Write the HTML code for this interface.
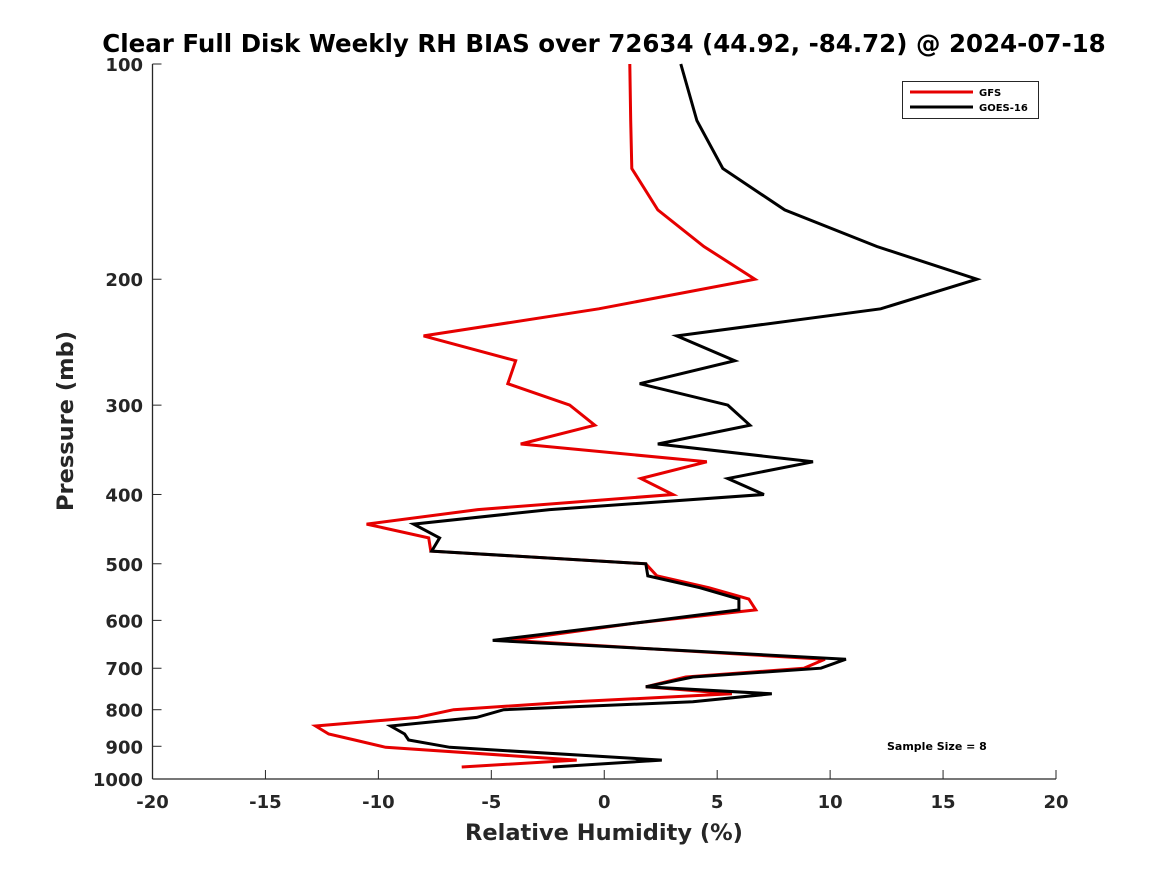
<!DOCTYPE html>
<html><head><meta charset="utf-8"><style>
html,body{margin:0;padding:0;background:#fff;}
svg{display:block;font-family:"DejaVu Sans","Liberation Sans",sans-serif;}
</style></head><body>
<svg id="chart" width="1167" height="875" viewBox="0 0 1167 875">
<text x="604" y="52" text-anchor="middle" font-size="24.5" font-weight="bold" fill="#000">Clear Full Disk Weekly RH BIAS over 72634 (44.92, -84.72) @ 2024-07-18</text>
<g id="axes"></g>
<g id="series"></g>
<text x="604" y="840" text-anchor="middle" font-size="22.5" font-weight="bold" fill="#262626">Relative Humidity (%)</text>
<text transform="translate(73,421) rotate(-90)" text-anchor="middle" font-size="22.5" font-weight="bold" fill="#262626">Pressure (mb)</text>
<text x="887" y="750" font-size="11" font-weight="bold" fill="#000">Sample Size = 8</text>
<g>
<rect x="902.5" y="81.5" width="136" height="37" fill="#fff" stroke="#262626" stroke-width="1"/>
<line x1="910" y1="92" x2="973" y2="92" stroke="#e60000" stroke-width="3"/>
<text x="979" y="96" font-size="10" font-weight="bold" fill="#000">GFS</text>
<line x1="910" y1="107" x2="973" y2="107" stroke="#000" stroke-width="3"/>
<text x="979" y="111" font-size="10" font-weight="bold" fill="#000">GOES-16</text>
</g>
</svg>
<script>
const pressures=[100,120,140,160,180,200,220,240,260,280,300,320,340,360,380,400,420,440,460,480,500,520,540,560,580,605,640,680,700,720,743,760,780,800,820,843,865,882,903,941,962];
const gfsValues=[1.13,1.17,1.22,2.37,4.41,6.67,-0.24,-8.0,-3.92,-4.27,-1.53,-0.42,-3.70,4.54,1.62,3.04,-5.60,-10.52,-7.77,-7.68,1.84,2.33,4.63,6.40,6.71,1.40,-4.14,9.77,8.84,3.61,1.84,5.65,-1.35,-6.67,-8.26,-12.78,-12.20,-11.05,-9.68,-1.22,-6.31];
const goesValues=[3.39,4.10,5.25,7.99,12.07,16.50,12.24,3.21,5.78,1.57,5.47,6.45,2.37,9.24,5.47,7.07,-2.41,-8.44,-7.29,-7.64,1.84,1.93,4.23,5.96,5.96,1.40,-4.94,10.70,9.59,3.92,1.84,7.42,3.92,-4.45,-5.65,-9.46,-8.84,-8.66,-6.84,2.55,-2.28];
const xTicks=[-20,-15,-10,-5,0,5,10,15,20];
const yTicks=[100,200,300,400,500,600,700,800,900,1000];

const L=152.5,R=1056,T=64,B=779;
function xs(v){return L+(v+20)/40*(R-L);}
function ys(p){return T+Math.log10(p/100)*(B-T);}
const NS='http://www.w3.org/2000/svg';
const axes=document.getElementById('axes');
const series=document.getElementById('series');
function mk(tag,attrs,parent){const e=document.createElementNS(NS,tag);for(const k in attrs)e.setAttribute(k,attrs[k]);parent.appendChild(e);return e;}

const xa=mk('line',{x1:L,y1:B,x2:R,y2:B,stroke:'#262626','stroke-width':1.3},axes);


const ya=mk('line',{x1:L,y1:T,x2:L,y2:B,stroke:'#262626','stroke-width':1.3},axes);



xTicks.forEach(v=>{
  const x=xs(v);
  const t=mk('line',{x1:x,y1:B,x2:x,y2:B-9,stroke:'#262626','stroke-width':1},axes);
  
  
  const lb=mk('text',{x:x,y:808,'text-anchor':'middle','font-size':18,'font-weight':'bold',fill:'#262626'},axes);
  lb.textContent=String(v);
  
  
});
yTicks.forEach(p=>{
  const y=ys(p);
  const t=mk('line',{x1:L,y1:y,x2:L+9,y2:y,stroke:'#262626','stroke-width':1},axes);
  
  
  const lb=mk('text',{x:143,y:y+7,'text-anchor':'end','font-size':18,'font-weight':'bold',fill:'#262626'},axes);
  lb.textContent=String(p);
  
  
});

function drawLine(vals,color,name){
  const pts=vals.map((v,i)=>xs(v).toFixed(1)+','+ys(pressures[i]).toFixed(1)).join(' ');
  const pl=mk('polyline',{points:pts,fill:'none',stroke:color,'stroke-width':3,'stroke-linejoin':'miter'},series);
  
  
}
drawLine(gfsValues,'#e60000','gfs-line');
drawLine(goesValues,'#000','goes-16-line');
</script>
</body></html>
